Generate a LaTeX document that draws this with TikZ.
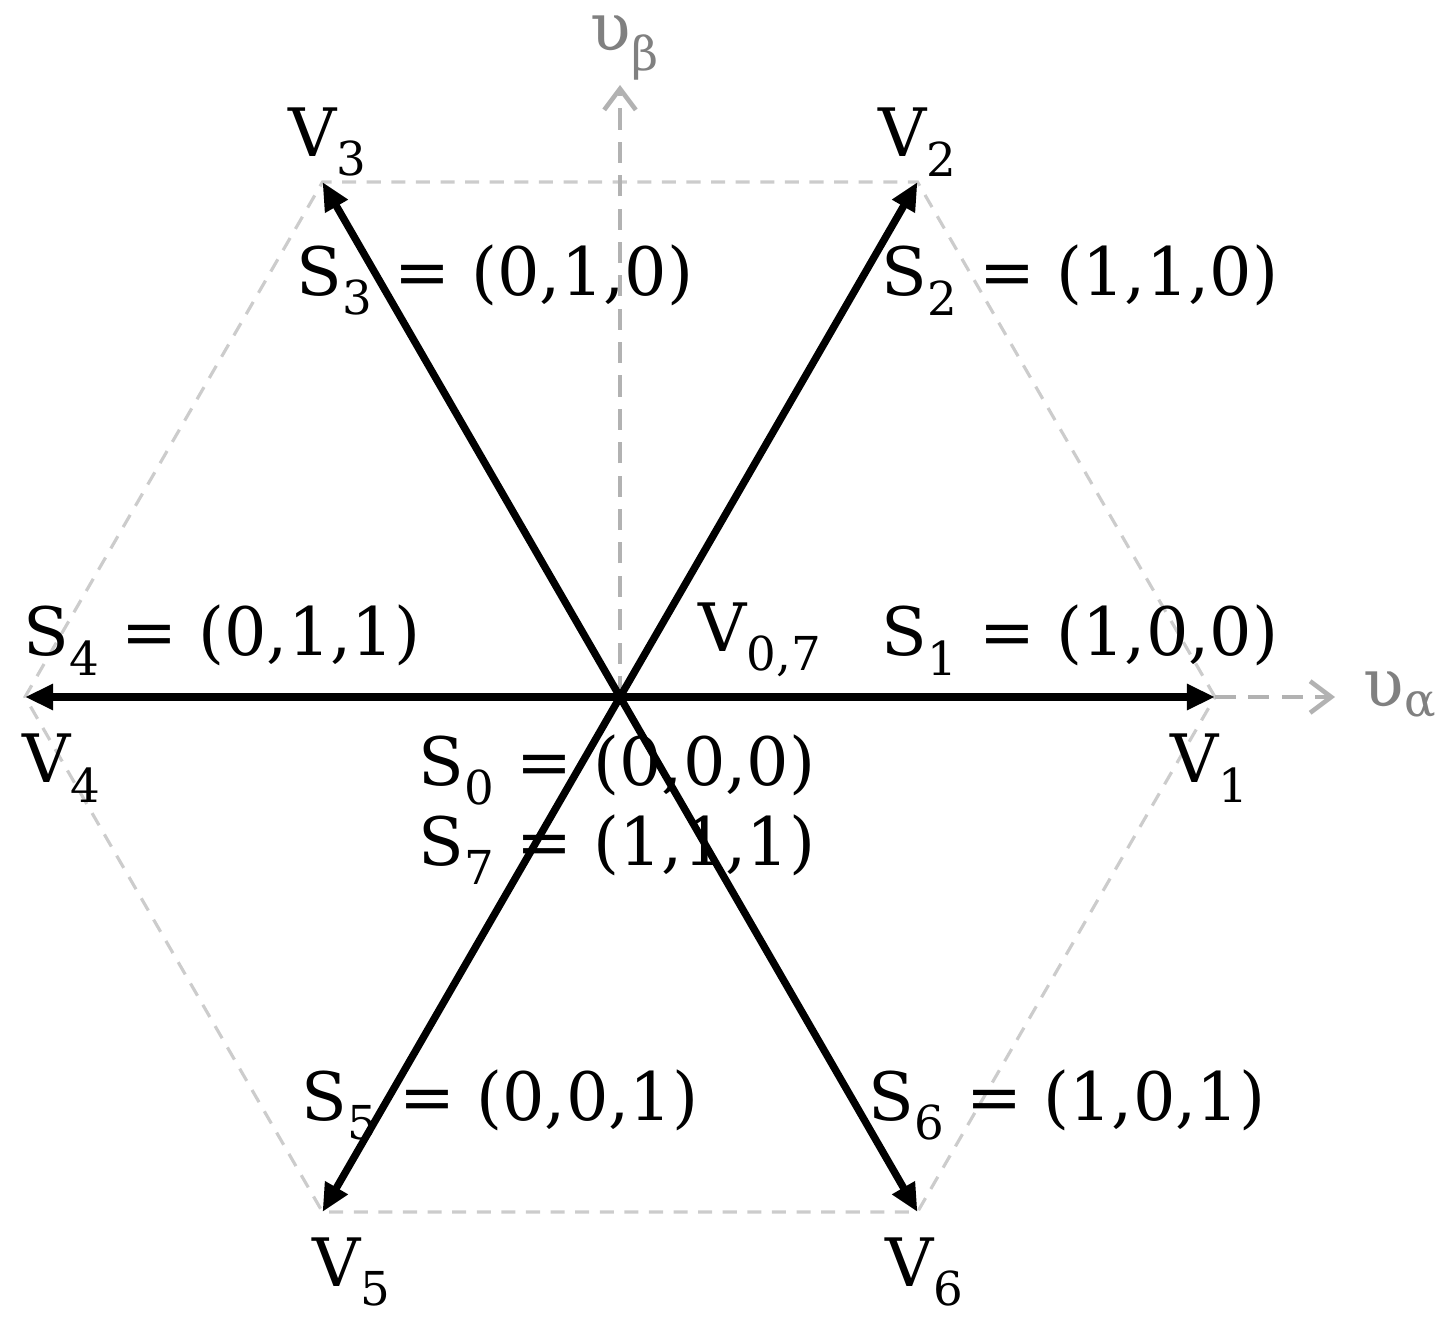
\documentclass[tikz,border=0pt]{standalone}
\usepackage{fontspec}
\setmainfont{DejaVu Serif}
\usetikzlibrary{arrows.meta}
\begin{document}
\begin{tikzpicture}[x=0.02cm,y=-0.02cm,
 vec/.style={line width=4.2pt,-{Triangle[length=16pt,width=14pt]}},
 axis/.style={draw=gray!60,dash pattern=on 12pt off 7pt,line width=2.6pt,-{Straight Barb[length=12pt,width=18pt]}},
 hex/.style={draw=gray!40,dash pattern=on 8pt off 6pt,line width=1.8pt},
 lbl/.style={font=\fontsize{38}{44}\selectfont,inner sep=0pt}]
\useasboundingbox (0,0) rectangle (1455,1342);
\coordinate (O) at (620,697);
\coordinate (p1) at (1215,697);
\coordinate (p2) at (917.5,182);
\coordinate (p3) at (322.5,182);
\coordinate (p4) at (25,697);
\coordinate (p5) at (322.5,1212);
\coordinate (p6) at (917.5,1212);
\coordinate (ya) at (620,85);
\coordinate (xa) at (1335,697);
\draw[hex] (p1)--(p2)--(p3)--(p4)--(p5)--(p6)--cycle;
\draw[axis] (O)--(ya);
\draw[axis] (p1)--(xa);
\foreach \i in {1,...,6}{\draw[vec] (O)--(p\i);}
\node[lbl,text=gray] (ub) at (625,48) {υ\textsubscript{β}};
\node[lbl,text=gray] (ua) at (1400,695) {υ\textsubscript{α}};
\node[lbl] (v3) at (328,142) {V\textsubscript{3}};
\node[lbl] (v2) at (918,142) {V\textsubscript{2}};
\node[lbl] (s3) at (495,280) {S\textsubscript{3} = (0,1,0)};
\node[lbl] (s2) at (1080,280) {S\textsubscript{2} = (1,1,0)};
\node[lbl] (v07) at (760,640) {V\textsubscript{0,7}};
\node[lbl] (s1) at (1080,640) {S\textsubscript{1} = (1,0,0)};
\node[lbl] (s4) at (222,640) {S\textsubscript{4} = (0,1,1)};
\node[lbl] (v4) at (62,768) {V\textsubscript{4}};
\node[lbl] (v1) at (1210,768) {V\textsubscript{1}};
\node[lbl] (s0) at (617,770) {S\textsubscript{0} = (0,0,0)};
\node[lbl] (s7) at (617,850) {S\textsubscript{7} = (1,1,1)};
\node[lbl] (s5) at (500,1105) {S\textsubscript{5} = (0,0,1)};
\node[lbl] (s6) at (1067,1105) {S\textsubscript{6} = (1,0,1)};
\node[lbl] (v5) at (352,1272) {V\textsubscript{5}};
\node[lbl] (v6) at (925,1272) {V\textsubscript{6}};
\end{tikzpicture}
\end{document}
